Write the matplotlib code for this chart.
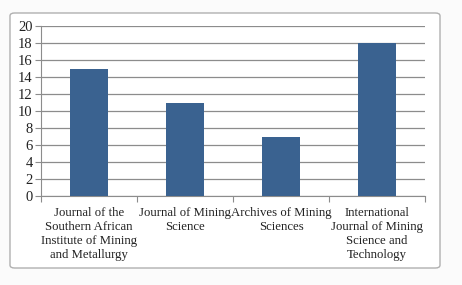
import matplotlib
matplotlib.use("Agg")
from matplotlib import pyplot as plt
from matplotlib.patches import FancyBboxPatch

categories = ["Journal of the\nSouthern African\nInstitute of Mining\nand Metallurgy",
              "Journal of Mining\nScience",
              "Archives of Mining\nSciences",
              "International\nJournal of Mining\nScience and\nTechnology"]
values = [15, 11, 7, 18]

plt.rcParams['font.family'] = ['Liberation Serif', 'DejaVu Serif']

fig = plt.figure(figsize=(4.62, 2.85), dpi=100)
fig.patch.set_facecolor("#fbfbfb")

# outer chart frame
frame = FancyBboxPatch((10 / 462, 1 - 268 / 285), 430 / 462, 255 / 285,
                       boxstyle="round,pad=0,rounding_size=0.01",
                       transform=fig.transFigure, facecolor="white",
                       edgecolor="#b0b0b0", linewidth=1.0, zorder=-5)
fig.patches.append(frame)

ax = fig.add_axes([41 / 462, 1 - 196 / 285, 384 / 462, 170 / 285])
ax.set_facecolor("none")

x = range(len(values))
ax.bar(x, values, width=0.4, color="#3a6290", zorder=3)

ax.set_ylim(0, 20)
ax.set_xlim(-0.5, len(values) - 0.5)
ax.set_yticks(range(0, 21, 2))
ax.yaxis.grid(True, color="#8c8c8c", linewidth=0.9, zorder=1)

ax.set_xticks([i - 0.5 for i in range(len(values) + 1)])
ax.set_xticklabels([])
ax.set_xticks(list(x), minor=True)
ax.set_xticklabels(categories, minor=True, fontsize=9.2, linespacing=1.2,
                   color="#222222")
ax.tick_params(axis="x", which="minor", length=0, pad=8)
ax.tick_params(axis="x", which="major", length=4, color="#8c8c8c")
ax.tick_params(axis="y", length=4, color="#8c8c8c", labelsize=10.5, pad=2,
               labelcolor="#222222")

for s in ["top", "right"]:
    ax.spines[s].set_visible(False)
ax.spines["left"].set_color("#8c8c8c")
ax.spines["bottom"].set_color("#8c8c8c")

fig.savefig("out.png", dpi=100, facecolor=fig.get_facecolor())
